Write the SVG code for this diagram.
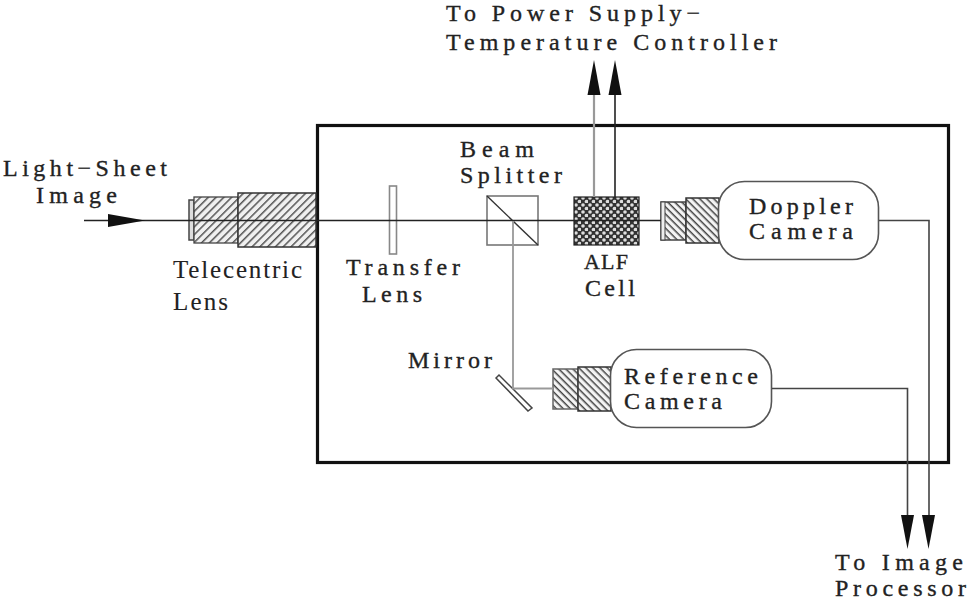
<svg xmlns="http://www.w3.org/2000/svg" width="967" height="602" viewBox="0 0 967 602">
<style>
text{font-family:"Liberation Serif",serif;font-size:24px;fill:#222;stroke:#222;stroke-width:.35}
.t{font-size:25px;stroke-width:.1}
.a{font-size:22px}
.l{fill:none;stroke:#222;stroke-width:1.6}
.g{fill:none;stroke:#999;stroke-width:2.2}
.o{fill:none;stroke:#444;stroke-width:1.6}
</style>
<defs>
<pattern id="fw" width="5.500" height="5.500" patternUnits="userSpaceOnUse" patternTransform="rotate(-45)"><rect width="5.500" height="5.500" fill="#f0f0f0"/><rect width="5.500" height="1.500" fill="#555"/></pattern>
<pattern id="bk" width="5" height="5" patternUnits="userSpaceOnUse" patternTransform="rotate(45)"><rect width="5" height="5" fill="#f4f4f4"/><rect width="5" height="1.500" fill="#444"/></pattern>
<pattern id="ch" width="7" height="7" patternUnits="userSpaceOnUse"><rect width="7" height="7" fill="#333"/><circle cx="2" cy="2" r="1.8" fill="#ddd"/><circle cx="5.500" cy="5.500" r="1.800" fill="#ddd"/></pattern>
</defs>
<rect id="enclosure" x="317.500" y="125.500" width="631" height="337" fill="none" stroke="#111" stroke-width="3.200"/>
<g id="telecentric-lens">
<rect x="189" y="200" width="5" height="40" fill="#ddd" stroke="#444" stroke-width="1.500"/>
<rect x="194" y="197" width="44" height="46" fill="url(#fw)" stroke="#444" stroke-width="1.300"/>
<rect x="238" y="193" width="78" height="54" fill="url(#fw)" stroke="#333" stroke-width="1.500"/>
<text class="t" x="173" y="278" textLength="129">Telecentric</text>
<text class="t" x="173" y="310" textLength="55">Lens</text>
</g>
<g id="transfer-lens">
<rect x="389.500" y="186" width="7" height="68" fill="#fff" stroke="#888" stroke-width="1.600"/>
<text x="346" y="275" textLength="114">Transfer</text>
<text x="362" y="302" textLength="60">Lens</text>
</g>
<g id="beam-splitter">
<rect x="487" y="196" width="51" height="49" fill="#fff" stroke="#777" stroke-width="1.600"/>
<line x1="487" y1="196" x2="538" y2="245" stroke="#333" stroke-width="1.400"/>
<text x="460" y="157" textLength="74">Beam</text>
<text x="460" y="183" textLength="102">Splitter</text>
</g>
<g id="alf-cell">
<rect x="574" y="197" width="65" height="48" fill="url(#ch)" stroke="#222" stroke-width="1.200"/>
<text class="a" x="584" y="269" textLength="44">ALF</text>
<text x="585" y="296" textLength="50">Cell</text>
</g>
<g id="doppler-camera">
<rect x="661" y="202" width="25" height="38" fill="url(#bk)" stroke="#444" stroke-width="1.500"/>
<rect x="661" y="202" width="4" height="38" fill="#eee" stroke="#444" stroke-width="1"/>
<rect x="686" y="198" width="33" height="45" fill="url(#bk)" stroke="#333" stroke-width="1.500"/>
<rect x="718.500" y="181.500" width="160" height="78" rx="26" fill="#fff" stroke="#555" stroke-width="1.600"/>
<text x="749" y="214" textLength="104">Doppler</text>
<text x="749" y="239" textLength="104">Camera</text>
</g>
<g id="mirror">
<polygon points="496,378 499,375 532,408 528,411" fill="#fff" stroke="#444" stroke-width="1.500"/>
<text x="408" y="368" textLength="84">Mirror</text>
</g>
<g id="reference-camera">
<rect x="553" y="369" width="25" height="40" fill="url(#bk)" stroke="#666" stroke-width="1.500"/>
<rect x="578" y="367" width="33" height="44" fill="url(#bk)" stroke="#333" stroke-width="1.500"/>
<rect x="610.500" y="349.500" width="161" height="78" rx="26" fill="#fff" stroke="#555" stroke-width="1.600"/>
<text x="624" y="384" textLength="134">Reference</text>
<text x="624" y="409" textLength="98">Camera</text>
</g>
<g id="connectors">
<path class="l" d="M84 220.500H661"/>
<path class="g" d="M513 221V388.500H553" style="stroke-width:1.800"/>
<path class="g" d="M594 197V95"/>
<path class="l" d="M615 197V95"/>
<path class="o" d="M879 220.500H929V515"/>
<path class="o" d="M772 388.500H907.500V515"/>
<polygon points="108,214 145,220.500 108,227" fill="#111"/>
<polygon points="594,60 600.500,95 587.500,95" fill="#111"/>
<polygon points="615,60 621.500,95 608.500,95" fill="#111"/>
<polygon points="907.500,549 901,515 914,515" fill="#111"/>
<polygon points="928.500,549 922,515 935,515" fill="#111"/>
</g>
<g id="light-sheet-image">
<text x="3" y="176" textLength="164">Light−Sheet</text>
<text x="36" y="203" textLength="81">Image</text>
</g>
<g id="power-supply">
<text x="446" y="21" textLength="254">To Power Supply−</text>
<text x="446" y="50" textLength="331">Temperature Controller</text>
</g>
<g id="image-processor">
<text x="835" y="570" textLength="128">To Image</text>
<text x="835" y="596" textLength="131">Processor</text>
</g>
</svg>
